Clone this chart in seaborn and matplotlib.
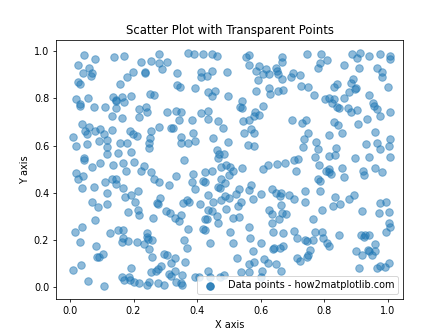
import matplotlib
matplotlib.use("Agg")
import matplotlib.pyplot as plt
import seaborn as sns
import pandas as pd

x_vals = [
    # top-left region
    0.045, 0.079, 0.140, 0.169, 0.280, 0.255, 0.223, 0.280, 0.304, 0.289, 0.026, 0.061, 0.042, 0.070, 0.067,
    0.199, 0.235, 0.237, 0.179, 0.159, 0.026, 0.033, 0.019, 0.058, 0.032, 0.137, 0.146, 0.144, 0.163, 0.169,
    0.191, 0.251, 0.264,
    # top-middle region
    0.371, 0.392, 0.419, 0.448, 0.464, 0.555, 0.565, 0.667, 0.667, 0.565, 0.594, 0.587, 0.616, 0.609, 0.625,
    0.647, 0.651, 0.656, 0.666, 0.337, 0.414, 0.413, 0.432, 0.448, 0.495, 0.336, 0.345, 0.393, 0.591, 0.434,
    0.456, 0.448, 0.499, 0.587, 0.625, 0.629, 0.656, 0.672, 0.543,
    # top-right region
    0.746, 0.790, 0.888, 0.914, 0.904, 0.942, 0.977, 1.009, 1.006, 0.787, 0.809, 0.781, 0.863, 0.911, 0.968,
    0.983, 0.983, 0.702, 0.695, 0.724, 0.727, 0.749, 0.841, 0.831, 0.890, 0.885, 0.896, 0.901, 0.879, 1.002,
    0.768, 0.803, 0.816, 0.831, 0.825, 0.863, 0.942, 0.955,
    # upper-middle left
    0.033, 0.077, 0.109, 0.144, 0.218, 0.239, 0.242, 0.305, 0.131, 0.163, 0.216, 0.039, 0.061, 0.048, 0.055,
    0.080, 0.093, 0.106, 0.131, 0.010, 0.116, 0.188, 0.197, 0.210, 0.255, 0.280, 0.318, 0.251, 0.248, 0.248,
    0.020, 0.055, 0.090, 0.115, 0.159, 0.178, 0.115, 0.150, 0.191, 0.045, 0.045, 0.096, 0.068, 0.134, 0.166,
    0.201, 0.232,
    # upper-middle center
    0.333, 0.350, 0.413, 0.435, 0.536, 0.542, 0.609, 0.343, 0.384, 0.435, 0.467, 0.483, 0.323, 0.545, 0.564,
    0.578, 0.582, 0.595, 0.571, 0.549, 0.578, 0.350, 0.388, 0.394, 0.372, 0.350, 0.451, 0.499, 0.559, 0.579,
    0.464, 0.470, 0.467, 0.486, 0.359, 0.492, 0.476, 0.505, 0.542, 0.622, 0.652, 0.676, 0.608,
    # upper-middle right
    0.841, 0.848, 0.876, 0.885, 0.904, 0.957, 0.965, 1.006, 0.977, 0.935, 0.700, 0.730, 0.743, 0.831, 0.844,
    0.906, 0.749, 0.816, 0.857, 0.961, 0.736, 0.774, 1.008, 0.733, 0.781, 0.838, 0.933, 0.968, 0.977, 1.003,
    0.771, 0.816, 0.835, 0.898, 0.942, 1.006, 0.706, 0.719, 0.784, 0.816, 0.857, 0.961,
    # lower-middle left
    0.019, 0.042, 0.026, 0.039, 0.175, 0.223, 0.255, 0.077, 0.109, 0.132, 0.144, 0.144, 0.166, 0.115, 0.070,
    0.087, 0.118, 0.172, 0.191, 0.213, 0.206, 0.182, 0.213, 0.216, 0.265, 0.280, 0.312, 0.283, 0.274, 0.277,
    0.261, 0.302, 0.315, 0.080, 0.039, 0.017, 0.125, 0.150, 0.166, 0.242,
    # lower-middle center
    0.333, 0.388, 0.426, 0.448, 0.502, 0.514, 0.384, 0.419, 0.426, 0.476, 0.489, 0.467, 0.473, 0.394, 0.434,
    0.451, 0.410, 0.356, 0.369, 0.375, 0.476, 0.489, 0.502, 0.524, 0.533, 0.565, 0.571, 0.600, 0.575, 0.537,
    0.530, 0.635, 0.648, 0.663, 0.660, 0.663, 0.433, 0.448, 0.492, 0.464, 0.514, 0.533, 0.426, 0.432, 0.467,
    0.625, 0.635, 0.667, 0.679, 0.658, 0.635, 0.331, 0.343, 0.350, 0.562, 0.372, 0.419, 0.426, 0.505, 0.638,
    0.672,
    # lower-middle right
    0.711, 0.806, 0.816, 0.822, 0.863, 0.923, 0.926, 0.983, 0.781, 0.787, 0.740, 0.787, 0.689, 0.705, 0.740,
    0.835, 0.828, 0.850, 0.879, 0.895, 0.977, 0.996, 0.793, 0.920, 0.974, 1.003, 0.765, 1.003, 1.009, 0.704,
    0.771, 0.793, 0.996,
    # bottom left
    0.030, 0.083, 0.086, 0.090, 0.104, 0.167, 0.163, 0.182, 0.210, 0.232, 0.243, 0.247, 0.258, 0.248, 0.258,
    0.295, 0.307, 0.318, 0.010, 0.036, 0.058, 0.106, 0.191, 0.165, 0.169, 0.185, 0.188, 0.200, 0.216, 0.248,
    0.242, 0.255, 0.270, 0.277, 0.286, 0.277, 0.296, 0.312, 0.318,
    # bottom center
    0.359, 0.369, 0.442, 0.514, 0.568, 0.600, 0.638, 0.641, 0.660, 0.670, 0.575, 0.527, 0.610, 0.565, 0.578,
    0.622, 0.648, 0.331, 0.362, 0.331, 0.333, 0.353, 0.350, 0.353, 0.394, 0.407, 0.435, 0.442, 0.473, 0.486,
    0.537, 0.565, 0.603, 0.600, 0.663,
    # bottom right
    0.714, 0.740, 0.746, 0.765, 0.797, 0.809, 0.816, 0.847, 0.915, 0.930, 0.942, 0.926, 0.961, 0.901, 0.920,
    0.939, 0.942, 0.961, 0.952, 0.755, 0.750, 0.746, 0.714, 0.724, 0.910, 0.977, 0.965, 0.993, 1.003,
]

y_vals = [
    # top-left region
    0.982, 0.965, 0.975, 0.979, 0.986, 0.959, 0.952, 0.948, 0.952, 0.923, 0.940, 0.927, 0.906, 0.906, 0.895,
    0.910, 0.910, 0.908, 0.889, 0.861, 0.869, 0.861, 0.796, 0.800, 0.776, 0.805, 0.790, 0.792, 0.807, 0.785,
    0.810, 0.819, 0.814,
    # top-middle region
    0.994, 0.990, 0.986, 0.987, 0.978, 0.975, 0.982, 0.975, 0.954, 0.940, 0.935, 0.914, 0.923, 0.902, 0.902,
    0.927, 0.916, 0.902, 0.882, 0.906, 0.910, 0.889, 0.895, 0.914, 0.910, 0.858, 0.847, 0.843, 0.876, 0.826,
    0.833, 0.810, 0.810, 0.830, 0.843, 0.819, 0.833, 0.835, 0.789,
    # top-right region
    0.986, 0.990, 0.990, 0.994, 0.969, 0.979, 0.986, 0.979, 0.965, 0.948, 0.961, 0.927, 0.940, 0.928, 0.928,
    0.910, 0.889, 0.906, 0.892, 0.897, 0.852, 0.847, 0.861, 0.847, 0.882, 0.864, 0.840, 0.843, 0.826, 0.847,
    0.814, 0.796, 0.800, 0.796, 0.779, 0.800, 0.814, 0.779,
    # upper-middle left
    0.769, 0.765, 0.765, 0.761, 0.755, 0.765, 0.744, 0.744, 0.723, 0.716, 0.720, 0.691, 0.678, 0.661, 0.650,
    0.661, 0.670, 0.650, 0.665, 0.636, 0.624, 0.661, 0.648, 0.640, 0.661, 0.678, 0.674, 0.632, 0.611, 0.589,
    0.598, 0.606, 0.620, 0.594, 0.611, 0.611, 0.564, 0.568, 0.573, 0.547, 0.539, 0.526, 0.509, 0.516, 0.526,
    0.530, 0.515,
    # upper-middle center
    0.747, 0.743, 0.738, 0.747, 0.765, 0.758, 0.769, 0.707, 0.709, 0.713, 0.703, 0.674, 0.675, 0.705, 0.709,
    0.723, 0.744, 0.729, 0.671, 0.653, 0.653, 0.636, 0.653, 0.620, 0.611, 0.611, 0.632, 0.615, 0.602, 0.598,
    0.582, 0.564, 0.549, 0.564, 0.540, 0.519, 0.509, 0.509, 0.505, 0.519, 0.522, 0.527, 0.502,
    # upper-middle right
    0.764, 0.761, 0.758, 0.743, 0.750, 0.768, 0.755, 0.740, 0.724, 0.713, 0.707, 0.696, 0.707, 0.700, 0.686,
    0.692, 0.654, 0.644, 0.654, 0.658, 0.627, 0.615, 0.629, 0.594, 0.585, 0.591, 0.606, 0.611, 0.586, 0.598,
    0.551, 0.556, 0.560, 0.547, 0.551, 0.551, 0.539, 0.543, 0.518, 0.502, 0.505, 0.505,
    # lower-middle left
    0.485, 0.470, 0.456, 0.421, 0.493, 0.494, 0.487, 0.426, 0.446, 0.456, 0.460, 0.438, 0.418, 0.400, 0.362,
    0.340, 0.353, 0.383, 0.391, 0.408, 0.362, 0.319, 0.328, 0.307, 0.456, 0.447, 0.433, 0.378, 0.357, 0.352,
    0.294, 0.324, 0.315, 0.286, 0.256, 0.235, 0.231, 0.243, 0.243, 0.227,
    # lower-middle center
    0.470, 0.481, 0.488, 0.492, 0.477, 0.494, 0.447, 0.451, 0.447, 0.460, 0.439, 0.426, 0.418, 0.416, 0.391,
    0.362, 0.353, 0.357, 0.370, 0.362, 0.367, 0.387, 0.378, 0.395, 0.416, 0.412, 0.433, 0.395, 0.374, 0.362,
    0.345, 0.416, 0.400, 0.400, 0.387, 0.349, 0.328, 0.324, 0.332, 0.303, 0.294, 0.298, 0.290, 0.290, 0.273,
    0.328, 0.311, 0.315, 0.311, 0.287, 0.273, 0.294, 0.281, 0.307, 0.256, 0.248, 0.248, 0.241, 0.235, 0.235,
    0.231,
    # lower-middle right
    0.491, 0.491, 0.487, 0.480, 0.468, 0.491, 0.476, 0.487, 0.456, 0.451, 0.408, 0.408, 0.391, 0.374, 0.362,
    0.383, 0.345, 0.353, 0.374, 0.391, 0.357, 0.362, 0.328, 0.324, 0.315, 0.319, 0.290, 0.270, 0.256, 0.239,
    0.233, 0.233, 0.233,
    # bottom left
    0.190, 0.172, 0.129, 0.129, 0.142, 0.207, 0.190, 0.194, 0.190, 0.181, 0.212, 0.203, 0.198, 0.163, 0.129,
    0.138, 0.134, 0.100, 0.072, 0.092, 0.024, 0.003, 0.079, 0.041, 0.028, 0.041, 0.028, 0.020, 0.016, 0.020,
    0.007, 0.062, 0.070, 0.075, 0.087, 0.016, 0.007, 0.054, 0.045,
    # bottom center
    0.198, 0.165, 0.186, 0.186, 0.207, 0.186, 0.160, 0.165, 0.165, 0.172, 0.151, 0.125, 0.117, 0.096, 0.104,
    0.100, 0.096, 0.125, 0.108, 0.066, 0.020, 0.049, 0.016, 0.007, 0.041, 0.041, 0.070, 0.041, 0.041, 0.049,
    0.062, 0.062, 0.066, 0.041, 0.066,
    # bottom right
    0.207, 0.198, 0.193, 0.198, 0.207, 0.188, 0.172, 0.219, 0.219, 0.219, 0.219, 0.211, 0.181, 0.151, 0.134,
    0.159, 0.151, 0.151, 0.134, 0.155, 0.135, 0.129, 0.121, 0.111, 0.080, 0.087, 0.079, 0.083, 0.100,
]

df = pd.DataFrame({"x": x_vals, "y": y_vals})

fig, ax = plt.subplots(figsize=(6.4, 4.8), dpi=70)
sns.scatterplot(data=df, x="x", y="y", ax=ax, color="#1f77b4", alpha=0.5,
                s=60, linewidth=1, edgecolor="#1f77b4",
                label="Data points - how2matplotlib.com")
ax.set_xlim(-0.044, 1.049)
ax.set_ylim(-0.051, 1.046)
ax.set_title("Scatter Plot with Transparent Points")
ax.set_xlabel("X axis")
ax.set_ylabel("Y axis")
leg = ax.legend(loc="lower right")
for h in leg.legend_handles:
    h.set_alpha(0.9)
fig.savefig("out.png", dpi=70)
